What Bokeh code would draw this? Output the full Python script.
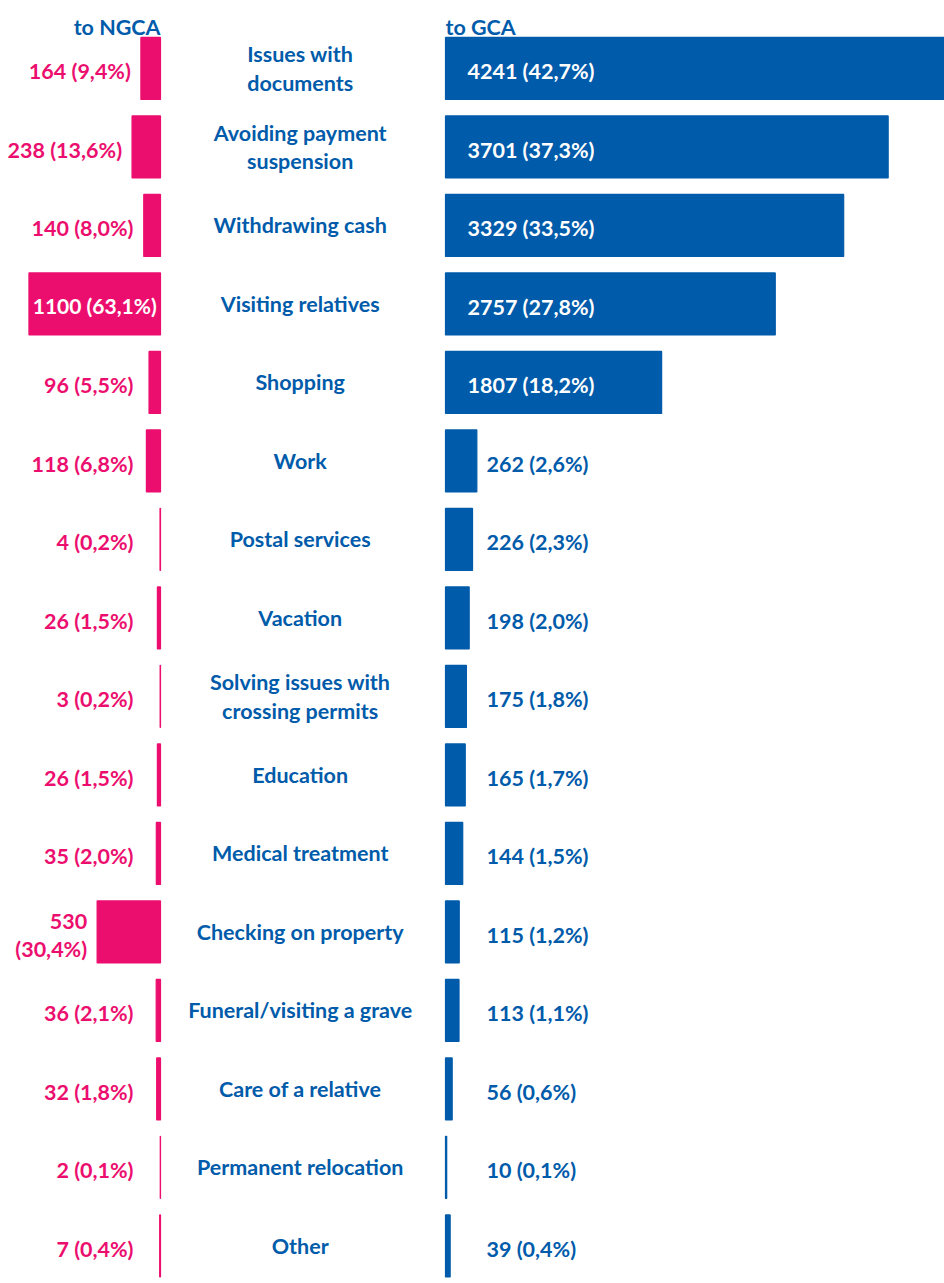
from bokeh.plotting import figure
from bokeh.layouts import row
from bokeh.models import Range1d, ColumnDataSource
from bokeh.core.properties import value
from bokeh.embed import file_html
from bokeh.resources import INLINE

categories = ["Issues with\ndocuments", "Avoiding payment\nsuspension", "Withdrawing cash",
              "Visiting relatives", "Shopping", "Work", "Postal services", "Vacation",
              "Solving issues with\ncrossing permits", "Education", "Medical treatment",
              "Checking on property", "Funeral/visiting a grave", "Care of a relative",
              "Permanent relocation", "Other"]
ngca = [164, 238, 140, 1100, 96, 118, 4, 26, 3, 26, 35, 530, 36, 32, 2, 7]
ngca_labels = ["164 (9,4%)", "238 (13,6%)", "140 (8,0%)", "1100 (63,1%)", "96 (5,5%)",
               "118 (6,8%)", "4 (0,2%)", "26 (1,5%)", "3 (0,2%)", "26 (1,5%)", "35 (2,0%)",
               "530\n(30,4%)", "36 (2,1%)", "32 (1,8%)", "2 (0,1%)", "7 (0,4%)"]
gca = [4241, 3701, 3329, 2757, 1807, 262, 226, 198, 175, 165, 144, 115, 113, 56, 10, 39]
gca_labels = ["4241 (42,7%)", "3701 (37,3%)", "3329 (33,5%)", "2757 (27,8%)", "1807 (18,2%)",
              "262 (2,6%)", "226 (2,3%)", "198 (2,0%)", "175 (1,8%)", "165 (1,7%)",
              "144 (1,5%)", "115 (1,2%)", "113 (1,1%)", "56 (0,6%)", "10 (0,1%)", "39 (0,4%)"]
header_left = "to NGCA"
header_right = "to GCA"

PINK = "#EC0E6E"
BLUE = "#005BAA"
FONT = value("Lato")
FS = "21.5px"
H = 1283
rows_idx = list(range(len(categories)))
YR = (15.478, -0.866)
BAR_H = 0.79
HEAD_Y = -0.53
INSIDE = 1000
LH = 1.08


def base(width, xr):
    p = figure(width=width, height=H, x_range=xr, y_range=Range1d(*YR),
               output_backend="svg", toolbar_location=None, min_border=0,
               outline_line_color=None, background_fill_color="white",
               border_fill_color="white")
    p.xaxis.visible = False
    p.yaxis.visible = False
    p.grid.visible = False
    return p


# ---- left panel (to NGCA) ----
left = base(162, Range1d(1338, -16.7))
left.hbar(y=rows_idx, left=0, right=ngca, height=BAR_H, fill_color=PINK,
          line_color=PINK, line_width=1.2)
out_i = [i for i in rows_idx if ngca[i] <= INSIDE]
in_i = [i for i in rows_idx if ngca[i] > INSIDE]
src_lo = ColumnDataSource(dict(x=[max(ngca[i], 142) for i in out_i], y=out_i,
                               t=[ngca_labels[i] for i in out_i]))
left.text(x="x", y="y", text="t", source=src_lo, x_offset=-10, y_offset=3,
          text_align="right", text_baseline="middle", text_font=FONT,
          text_font_style="bold", text_font_size=FS, text_color=PINK,
          text_line_height=LH)
src_li = ColumnDataSource(dict(x=[ngca[i] / 2 for i in in_i], y=in_i,
                               t=[ngca_labels[i] for i in in_i]))
left.text(x="x", y="y", text="t", source=src_li, y_offset=2,
          text_align="center", text_baseline="middle", text_font=FONT,
          text_font_style="bold", text_font_size="21px", text_color="white")
left.text(x=[0], y=[HEAD_Y], text=[header_left], text_align="right",
          text_baseline="middle", text_font=FONT, text_font_style="bold",
          text_font_size=FS, text_color=BLUE)

# ---- middle panel (categories) ----
mid = base(281, Range1d(0, 1))
mid.text(x=[0.49] * len(categories), y=rows_idx, text=categories,
         text_align="center", text_baseline="middle", text_font=FONT,
         text_font_style="bold", text_font_size=FS, text_color=BLUE,
         text_line_height=LH)

# ---- right panel (to GCA) ----
right = base(501, Range1d(-16.7, 4172))
right.hbar(y=rows_idx, left=0, right=gca, height=BAR_H, fill_color=BLUE,
           line_color=BLUE, line_width=1.2)
rin = [i for i in rows_idx if gca[i] > INSIDE]
rout = [i for i in rows_idx if gca[i] <= INSIDE]
right.text(x=[0] * len(rin), y=rin, text=[gca_labels[i] for i in rin], x_offset=22,
           y_offset=3, text_align="left", text_baseline="middle", text_font=FONT,
           text_font_style="bold", text_font_size=FS, text_color="white")
right.text(x=[0] * len(rout), y=rout, text=[gca_labels[i] for i in rout], x_offset=41,
           y_offset=3, text_align="left", text_baseline="middle", text_font=FONT,
           text_font_style="bold", text_font_size=FS, text_color=BLUE)
right.text(x=[0], y=[HEAD_Y], text=[header_right], text_align="left",
           text_baseline="middle", text_font=FONT, text_font_style="bold",
           text_font_size=FS, text_color=BLUE)

layout = row(left, mid, right, spacing=0)
open("out.html", "w").write(file_html(layout, INLINE))
